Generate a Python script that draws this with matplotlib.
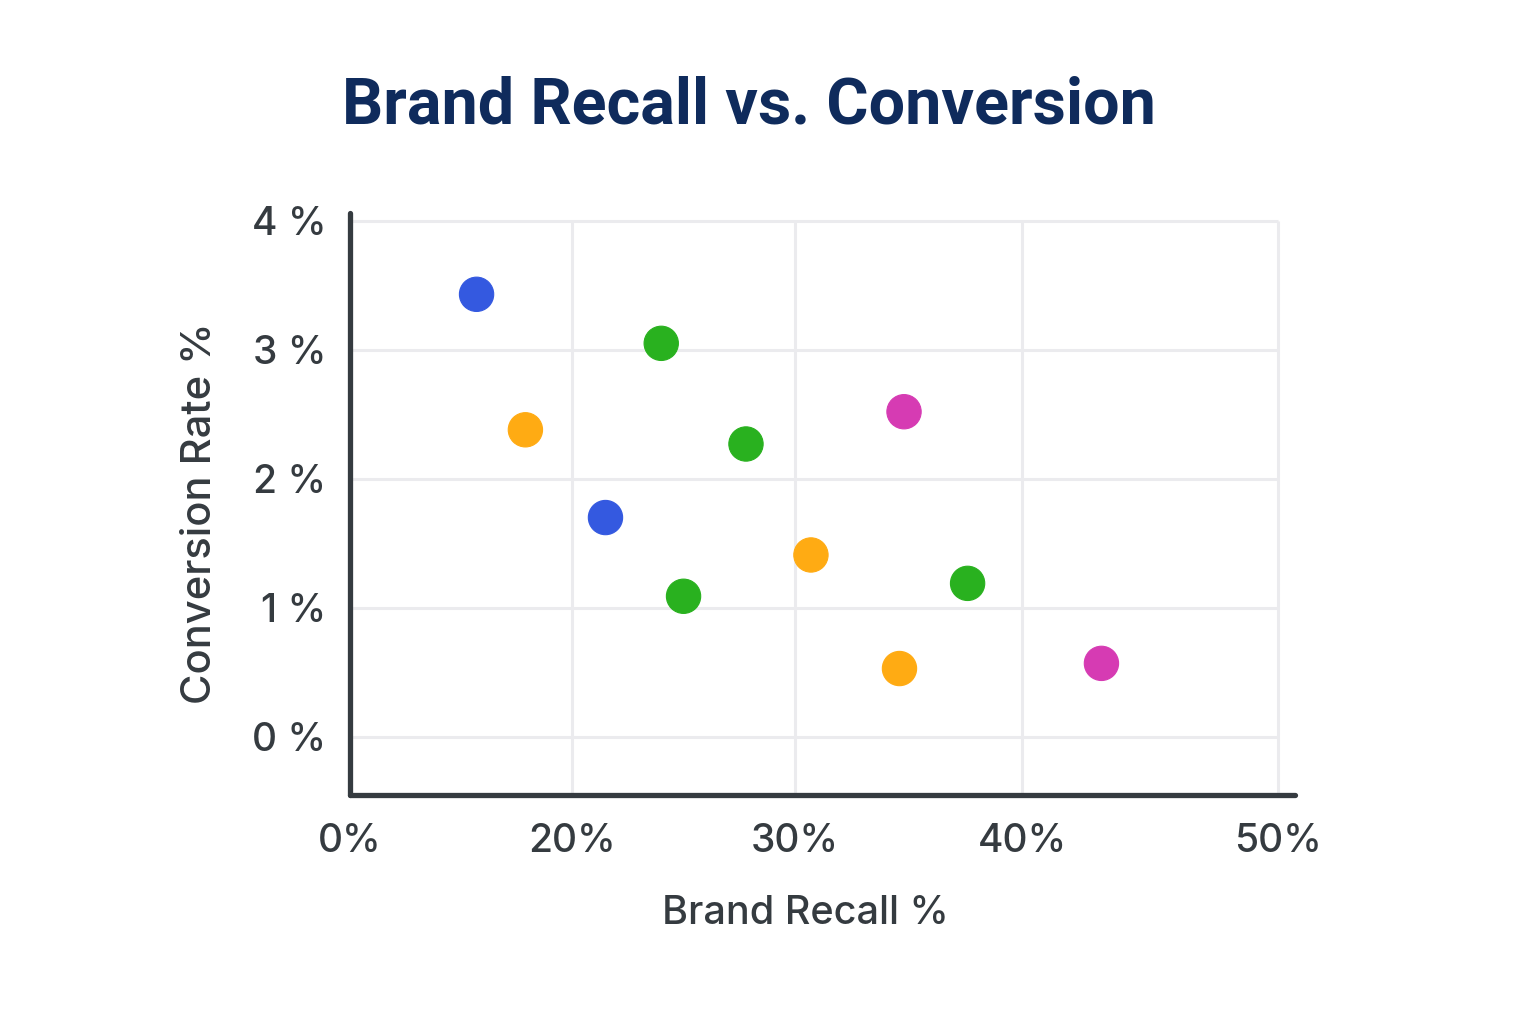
import numpy as np
import matplotlib
matplotlib.use("Agg")
import matplotlib.pyplot as plt

# ---- data ----
recall = [11.4, 21.5, 24.0, 27.8, 25.0, 37.6, 15.8, 30.7, 34.6, 34.8, 43.1]
conversion = [3.43, 1.70, 3.05, 2.27, 1.09, 1.19, 2.38, 1.41, 0.53, 2.52, 0.57]
groups = ["blue", "blue", "green", "green", "green", "green",
          "orange", "orange", "orange", "magenta", "magenta"]
group_colors = {"blue": "#3459e0", "green": "#29b11f",
                "orange": "#ffab13", "magenta": "#d63bb3"}
x_ticks = [0, 20, 30, 40, 50]
x_tick_labels = ["0%", "20%", "30%", "40%", "50%"]
y_ticks = [0, 1, 2, 3, 4]
y_tick_labels = ["0 %", "1 %", "2 %", "3 %", "4 %"]

plt.rcParams['font.family'] = ['Inter', 'DejaVu Sans']

# piecewise-linear x scale matching the reference's uneven tick spacing
kx = [-10, 0, 20, 30, 40, 50, 60]
kp = [-222, 0, 222, 445, 672, 928, 1184]
def fwd(v):
    return np.interp(v, kx, kp)
def inv(v):
    return np.interp(v, kp, kx)

W, H = 1536, 1024
fig = plt.figure(figsize=(W / 100, H / 100), dpi=100)
L, R, T, B = 350, 1295, 213, 795
ax = fig.add_axes([L / W, 1 - B / H, (R - L) / W, (B - T) / H])
ax.set_xscale('function', functions=(fwd, inv))
ax.set_xlim(0, 50.66)
ax.set_ylim(-0.45, 4.06)

grid_c = "#ebebee"
ax.hlines(y_ticks, 0, 50, colors=grid_c, linewidth=2.2, zorder=0)
ax.vlines(x_ticks[1:], -0.45, 4, colors=grid_c, linewidth=2.2, zorder=0)

cols = [group_colors[g] for g in groups]
ax.scatter(recall, conversion, s=610, c=cols, edgecolors=cols, linewidths=0.8, zorder=3)

axis_c = "#353b40"
for s in ["top", "right"]:
    ax.spines[s].set_visible(False)
for s in ["left", "bottom"]:
    ax.spines[s].set_linewidth(3.8)
    ax.spines[s].set_color(axis_c)
    ax.spines[s].set_capstyle("round")

ax.set_xticks(x_ticks)
ax.set_xticklabels(x_tick_labels)
ax.set_yticks(y_ticks)
ax.set_yticklabels(y_tick_labels)
ax.tick_params(length=0, labelsize=28, colors=axis_c)
ax.tick_params(axis="y", pad=17)
ax.tick_params(axis="x", pad=20)
for lab in ax.get_xticklabels() + ax.get_yticklabels():
    lab.set_fontweight("medium")

fig.text(805 / W, 1 - 913 / H, "Brand Recall %", ha="center", va="center",
         fontsize=28.5, color=axis_c, fontweight="medium")
fig.text(200 / W, 1 - 513 / H, "Conversion Rate %", ha="center", va="center",
         rotation=90, fontsize=30, color=axis_c, fontweight="medium")
fig.text(749 / W, 1 - 106 / H, "Brand Recall vs. Conversion", ha="center", va="center",
         fontsize=46.5, color="#0f2b5c", fontweight="bold", family=["Roboto", "DejaVu Sans"])

fig.savefig("out.png", dpi=100, facecolor="white")
